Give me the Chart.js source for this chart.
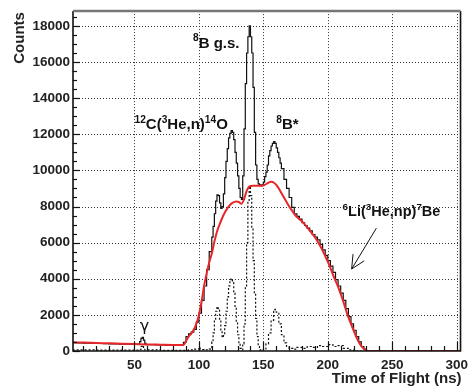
<!DOCTYPE html>
<html>
<head>
<meta charset="utf-8">
<script src="https://cdn.jsdelivr.net/npm/chart.js@4.4.1/dist/chart.umd.min.js"></script>
<style>
  html, body { margin: 0; padding: 0; background: #fff; }
</style>
</head>
<body>
<canvas id="tof" width="474" height="390"></canvas>
<script>
// measured histogram (bin start in ns, counts)
const tofBins = [2, 6, 10, 14, 18, 22, 26, 30, 34, 38, 42, 46, 50, 53, 54, 55, 56, 57, 58, 59, 62, 66, 70, 74, 78, 82, 86,
  88, 90, 92, 94, 96, 98, 100, 102, 104, 106, 108, 110, 111, 112, 113, 114, 115, 116, 117, 118, 119, 120,
  121, 122, 123, 124, 125, 126, 127, 128, 129, 130, 131, 132, 133, 134, 135, 136, 137, 138, 139, 140,
  141, 142, 143, 144, 145, 146, 147, 148, 149, 150, 151, 152, 153, 154, 155, 156, 157, 158, 159, 160,
  161, 162, 163, 164, 166, 168, 170, 172, 174, 176, 178, 180, 182, 184, 186, 188, 190, 192, 194, 196, 198,
  200, 202, 204, 206, 208, 210, 212, 214, 216, 218, 220, 222, 224, 226, 228, 230, 303];
const counts = [460, 450, 440, 430, 420, 415, 405, 395, 390, 380, 375, 365, 360, 380, 520, 700, 760, 600, 420, 350, 345, 340, 335, 330, 325, 320, 320,
  480, 800, 950, 1050, 1200, 1600, 2100, 2800, 3600, 4500, 5500, 6300, 6900, 7600, 8300, 8650, 8600, 8200, 7900, 8000, 8700, 9600,
  10500, 11200, 11800, 12050, 12200, 12100, 11700, 11000, 10400, 9700, 9000, 8500, 8400, 9700, 12300, 14800, 16500, 17400, 18000, 17400,
  16500, 14600, 12100, 10300, 9500, 9250, 9200, 9150, 9200, 9350, 9650, 9900, 10300, 10800, 11100, 11350, 11500, 11600, 11500, 11250,
  11000, 10700, 10400, 10100, 9500, 9000, 8500, 7950, 7600, 7450, 7300, 7100, 6950, 6800, 6650, 6450, 6300, 6150, 5900, 5600, 5300,
  5000, 4700, 4350, 3950, 3600, 3200, 2800, 2350, 1900, 1500, 1150, 800, 500, 250, 100, 0, 0];

// 6Li(3He,np)7Be fit (red)
const fitTof = [2, 10, 20, 30, 40, 50, 60, 70, 80, 88, 90, 92, 95, 98, 100, 102, 104, 106, 108, 110, 112, 114, 116, 118, 120,
  123, 126, 129, 131, 133, 135, 137, 139, 142, 146, 149, 151, 154, 156, 158, 160, 162, 164, 166, 168, 170, 172, 175,
  178, 181, 184, 187, 190, 192, 195, 198, 200, 202, 205, 208, 210, 212, 215, 218, 220, 222, 224, 226, 228, 230, 232, 303];
const fitCounts = [480, 465, 445, 425, 405, 385, 365, 350, 335, 330, 550, 800, 1050, 1500, 2000, 2700, 3600, 4300, 4900, 5400, 6050, 6600, 7000, 7350, 7650,
  8000, 8200, 8280, 8250, 8150, 8400, 8850, 9100, 9150, 9150, 9150, 9200, 9320, 9370, 9330, 9200, 9000, 8750, 8500, 8250, 8000, 7800, 7500,
  7300, 7100, 6850, 6580, 6300, 6080, 5700, 5250, 4950, 4600, 4050, 3550, 3160, 2750, 2070, 1500, 1140, 800, 500, 280, 120, 20, 0, 0];

// background-subtracted peaks (dotted)
const peakTof = [2, 20, 40, 50, 53, 55, 56, 57, 58, 70, 88, 92, 96, 100, 101, 104, 108, 110, 111, 112, 113, 114, 115, 116, 117, 118,
  119, 120, 121, 122, 123, 124, 125, 126, 127, 128, 129, 130, 131, 132, 133, 134, 135, 136, 137, 138, 139, 140, 141, 142,
  143, 144, 145, 146, 147, 148, 150, 152, 154, 156, 158, 159, 160, 162, 164, 166, 168, 170, 173, 176, 180, 184, 188, 192,
  196, 200, 204, 208, 212, 216, 220, 303];
const peakCounts = [60, 50, 50, 50, 80, 250, 300, 150, 60, 40, 40, 60, 100, 200, 80, 60, 100, 500, 1000, 1700, 2200, 2450, 2300, 1700, 1100, 750,
  850, 1400, 2200, 3000, 3600, 3950, 4000, 3800, 3200, 2400, 1600, 900, 400, 150, 60, 400, 1500, 3500, 6000, 8300, 9100, 8600, 6800, 5000,
  3200, 1800, 800, 250, 60, 30, 80, 400, 1000, 1700, 2200, 2300, 2150, 1500, 900, 450, 250, 150, 100, 200, 150, 250, 200, 300,
  250, 350, 250, 300, 150, 60, 0, 0];

const xTicks = [50, 100, 150, 200, 250, 300];
const yTicks = [0, 2000, 4000, 6000, 8000, 10000, 12000, 14000, 16000, 18000];

const FONT = '"Liberation Sans", Arial, Helvetica, sans-serif';

function pts(xs, ys) {
  return xs.map((x, i) => ({ x: x, y: ys[i] }));
}

// superscript-aware text: parts are [text, isSup]
function richText(ctx, parts, x, y, size) {
  let cx = x;
  parts.forEach(p => {
    const sup = p[1];
    ctx.font = 'bold ' + (sup ? size * 0.68 : size) + 'px ' + FONT;
    ctx.fillText(p[0], cx, sup ? y - size * 0.42 : y);
    cx += ctx.measureText(p[0]).width;
  });
}

const framePlugin = {
  id: 'frame',
  beforeDatasetsDraw(chart) {
    const ctx = chart.ctx, a = chart.chartArea;
    const xs = chart.scales.x, ys = chart.scales.y;
    ctx.save();
    ctx.strokeStyle = '#333';
    ctx.lineWidth = 1;
    ctx.setLineDash([1, 2]);
    xTicks.forEach(v => {
      const px = Math.round(xs.getPixelForValue(v)) + 0.5;
      ctx.beginPath(); ctx.moveTo(px, a.top); ctx.lineTo(px, a.bottom); ctx.stroke();
    });
    yTicks.slice(1).forEach(v => {
      const py = Math.round(ys.getPixelForValue(v)) + 0.5;
      ctx.beginPath(); ctx.moveTo(a.left, py); ctx.lineTo(a.right, py); ctx.stroke();
    });
    ctx.restore();
  },
  afterDatasetsDraw(chart) {
    const ctx = chart.ctx, a = chart.chartArea;
    const xs = chart.scales.x, ys = chart.scales.y;
    ctx.save();
    ctx.setLineDash([]);
    ctx.strokeStyle = '#111';
    ctx.lineWidth = 1.2;
    // y ticks
    for (let v = 0; v <= 18500; v += 500) {
      const py = Math.round(ys.getPixelForValue(v)) + 0.5;
      const len = v % 2000 === 0 ? 7 : 4;
      ctx.beginPath(); ctx.moveTo(a.left, py); ctx.lineTo(a.left + len, py); ctx.stroke();
    }
    // x ticks
    for (let v = 10; v <= 300; v += 10) {
      const px = Math.round(xs.getPixelForValue(v)) + 0.5;
      const len = v % 50 === 0 ? 9 : 5;
      ctx.beginPath(); ctx.moveTo(px, a.bottom); ctx.lineTo(px, a.bottom - len); ctx.stroke();
    }
    // frame
    ctx.lineWidth = 1.6;
    ctx.strokeStyle = '#111';
    ctx.beginPath();
    ctx.moveTo(a.left, a.top); ctx.lineTo(a.left, a.bottom); ctx.lineTo(a.right, a.bottom); ctx.lineTo(a.right, a.top);
    ctx.stroke();
    ctx.strokeStyle = '#777';
    ctx.lineWidth = 2.5;
    ctx.beginPath(); ctx.moveTo(a.left, a.top); ctx.lineTo(a.right, a.top); ctx.stroke();

    // axis titles
    ctx.fillStyle = '#222';
    ctx.font = 'bold 15px ' + FONT;
    ctx.textAlign = 'right';
    ctx.textBaseline = 'alphabetic';
    ctx.fillText('Time of Flight (ns)', a.right + 1, 383);
    ctx.save();
    ctx.translate(24, a.top + 1);
    ctx.rotate(-Math.PI / 2);
    ctx.fillText('Counts', 0, 0);
    ctx.restore();

    // labels on the peaks
    ctx.textAlign = 'left';
    ctx.fillStyle = '#111';
    const X = v => xs.getPixelForValue(v), Y = v => ys.getPixelForValue(v);
    richText(ctx, [['8', 1], ['B g.s.', 0]], X(95.4), Y(16800), 15);
    richText(ctx, [['12', 1], ['C(', 0], ['3', 1], ['He,n)', 0], ['14', 1], ['O', 0]], X(50), Y(12290), 15);
    richText(ctx, [['8', 1], ['B*', 0]], X(160), Y(12290), 15);
    richText(ctx, [['6', 1], ['Li(', 0], ['3', 1], ['He,np)', 0], ['7', 1], ['Be', 0]], X(211.5), Y(7460), 14.5);
    ctx.font = '16px "DejaVu Sans", sans-serif';
    ctx.textAlign = 'center';
    ctx.fillText('\u03b3', X(57.7), Y(1100));

    // arrow
    const x1 = X(237.7), y1 = Y(6800), x2 = X(218.5), y2 = Y(4540);
    const ang = Math.atan2(y2 - y1, x2 - x1);
    ctx.strokeStyle = '#111';
    ctx.lineWidth = 1;
    ctx.beginPath(); ctx.moveTo(x1, y1); ctx.lineTo(x2, y2); ctx.stroke();
    ctx.beginPath();
    ctx.moveTo(x2 - 15 * Math.cos(ang - 0.45), y2 - 15 * Math.sin(ang - 0.45));
    ctx.lineTo(x2, y2);
    ctx.lineTo(x2 - 15 * Math.cos(ang + 0.45), y2 - 15 * Math.sin(ang + 0.45));
    ctx.stroke();
    ctx.restore();
  }
};

new Chart(document.getElementById('tof'), {
  type: 'line',
  data: {
    datasets: [{
      data: pts(fitTof, fitCounts),
      borderColor: '#e8262a',
      borderWidth: 2,
      cubicInterpolationMode: 'monotone',
      pointRadius: 0
    }, {
      data: pts(tofBins, counts),
      borderColor: '#111',
      borderWidth: 1.2,
      stepped: true,
      pointRadius: 0
    }, {
      data: pts(peakTof, peakCounts),
      borderColor: '#111',
      borderWidth: 1.2,
      borderDash: [2, 2],
      stepped: true,
      pointRadius: 0
    }]
  },
  options: {
    responsive: false,
    animation: false,
    layout: { padding: { top: 7, right: 8, left: 0, bottom: 0 } },
    plugins: { legend: { display: false }, tooltip: { enabled: false } },
    scales: {
      x: {
        type: 'linear',
        min: 2.3,
        max: 303,
        afterFit: s => { s.height = 39; },
        afterBuildTicks: s => { s.ticks = xTicks.map(v => ({ value: v })); },
        grid: { display: false, drawTicks: false },
        border: { display: false },
        ticks: { color: '#222', padding: 6, maxRotation: 0, autoSkip: false,
          callback: v => String(v),
          font: { family: FONT, size: 13.5, weight: 'bold' } }
      },
      y: {
        min: 0,
        max: 18820,
        afterFit: s => { s.width = 73; },
        afterBuildTicks: s => { s.ticks = yTicks.map(v => ({ value: v })); },
        grid: { display: false, drawTicks: false },
        border: { display: false },
        ticks: { color: '#222', padding: 3, autoSkip: false,
          callback: v => String(v),
          font: { family: FONT, size: 13.5, weight: 'bold' } }
      }
    }
  },
  plugins: [framePlugin]
});
</script>
</body>
</html>
